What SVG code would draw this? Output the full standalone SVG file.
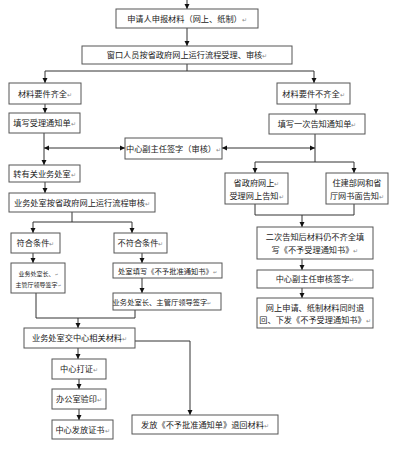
<svg xmlns="http://www.w3.org/2000/svg" width="400" height="463" viewBox="0 0 400 463">
<style>
rect{fill:#fff;stroke:#555;stroke-width:1}
text{font-family:"Noto Sans CJK SC","Liberation Sans",sans-serif;font-size:8.2px;fill:#222;text-anchor:middle}
.s{font-size:6px}
.m{font-size:7.3px}
.r{fill:#888;font-size:0.7em}
#conn path{fill:none;stroke:#333;stroke-width:1}
</style>
<defs>
<marker id="a" markerUnits="userSpaceOnUse" markerWidth="6" markerHeight="6" refX="5" refY="3" orient="auto-start-reverse"><path d="M0,0.5 L5,3 L0,5.5z" fill="#111"/></marker>
</defs>
<rect x="0" y="0" width="400" height="463" style="fill:#fff;stroke:none"/>
<g id="conn">
<path d="M187,0V9" marker-end="url(#a)"/>
<path d="M187,28V46" marker-end="url(#a)"/>
<path d="M187,64V71M45,71H314"/>
<path d="M45,71V83" marker-end="url(#a)"/>
<path d="M314,71V83" marker-end="url(#a)"/>
<path d="M45,104V113" marker-end="url(#a)"/>
<path d="M316,104V114" marker-end="url(#a)"/>
<path d="M44,133V165" marker-end="url(#a)"/>
<path d="M44,148H125" marker-start="url(#a)" marker-end="url(#a)"/>
<path d="M315,134V162M255,162H354"/>
<path d="M222,148H315" marker-start="url(#a)" marker-end="url(#a)"/>
<path d="M255,162V173" marker-end="url(#a)"/>
<path d="M354,162V173" marker-end="url(#a)"/>
<path d="M255,204V215M354,204V215M255,215H354"/>
<path d="M302,215V227" marker-end="url(#a)"/>
<path d="M302,259V270" marker-end="url(#a)"/>
<path d="M302,288V298" marker-end="url(#a)"/>
<path d="M45,182V193" marker-end="url(#a)"/>
<path d="M72,212V222M33,222H132"/>
<path d="M33,222V233" marker-end="url(#a)"/>
<path d="M132,222V233" marker-end="url(#a)"/>
<path d="M33,253V263" marker-end="url(#a)"/>
<path d="M142,253V263" marker-end="url(#a)"/>
<path d="M142,278V293" marker-end="url(#a)"/>
<path d="M36,293V318M135,310V318M36,318H135"/>
<path d="M78,318V328" marker-end="url(#a)"/>
<path d="M135,341H190V415" marker-end="url(#a)"/>
<path d="M78,348V359" marker-end="url(#a)"/>
<path d="M79,379V389" marker-end="url(#a)"/>
<path d="M79,409V420" marker-end="url(#a)"/>
</g>
<g id="n1"><rect x="116" y="9" width="142" height="19"/><text x="187" y="21.5">申请人申报材料（网上、纸制）<tspan class="r">↵</tspan></text></g>
<g id="n2"><rect x="82" y="46" width="210" height="18"/><text x="187" y="58">窗口人员按省政府网上运行流程受理、审核<tspan class="r">↵</tspan></text></g>
<g id="n3"><rect x="9" y="83" width="72" height="21"/><text x="45" y="96.5">材料要件齐全<tspan class="r">↵</tspan></text></g>
<g id="n4"><rect x="277" y="83" width="73" height="21"/><text x="313.5" y="96.5">材料要件不齐全<tspan class="r">↵</tspan></text></g>
<g id="n5"><rect x="9" y="113" width="71" height="20"/><text x="44.5" y="126">填写受理通知单<tspan class="r">↵</tspan></text></g>
<g id="n6"><rect x="269" y="114" width="96" height="20"/><text x="317" y="127">填写一次告知通知单<tspan class="r">↵</tspan></text></g>
<g id="n7"><rect x="125" y="138" width="97" height="21"/><text x="173.5" y="151.5">中心副主任签字（审核）<tspan class="r">↵</tspan></text></g>
<g id="n8"><rect x="9" y="165" width="71" height="17"/><text x="44.5" y="176.5">转有关业务处室<tspan class="r">↵</tspan></text></g>
<g id="n9"><rect x="9" y="193" width="146" height="19"/><text x="82" y="205.5">业务处室按省政府网上运行流程审核<tspan class="r">↵</tspan></text></g>
<g id="n10"><rect x="225" y="173" width="63" height="31"/><text x="256.5" y="186">省政府网上<tspan class="r">↵</tspan></text><text x="256.5" y="199">受理网上告知<tspan class="r">↵</tspan></text></g>
<g id="n11"><rect x="326" y="173" width="62" height="31"/><text x="357" y="186">住建部网和省</text><text x="357" y="199">厅网书面告知<tspan class="r">↵</tspan></text></g>
<g id="n12"><rect x="11" y="233" width="49" height="20"/><text x="35.5" y="246">符合条件<tspan class="r">↵</tspan></text></g>
<g id="n13"><rect x="114" y="233" width="53" height="20"/><text x="140.5" y="246">不符合条件<tspan class="r">↵</tspan></text></g>
<g id="n14"><rect x="11" y="263" width="54" height="30"/><text class="s" x="38" y="276">业务处室长、<tspan class="r">↵</tspan></text><text class="s" x="38" y="287">主管厅领导签字<tspan class="r">↵</tspan></text></g>
<g id="n15"><rect x="113" y="263" width="109" height="15"/><text class="m" x="167.5" y="273.5">处室填写《不予批准通知书》<tspan class="r">↵</tspan></text></g>
<g id="n16"><rect x="113" y="293" width="108" height="17"/><text class="m" x="162" y="304.5">业务处室长、主管厅领导签字<tspan class="r">↵</tspan></text></g>
<g id="n17"><rect x="257" y="227" width="116" height="32"/><text x="315" y="240">二次告知后材料仍不齐全填</text><text x="315" y="253">写《不予受理通知书》<tspan class="r">↵</tspan></text></g>
<g id="n18"><rect x="257" y="270" width="116" height="18"/><text x="315" y="282">中心副主任审核签字<tspan class="r">↵</tspan></text></g>
<g id="n19"><rect x="257" y="298" width="116" height="30"/><text x="315" y="310.5">网上申请、纸制材料同时退</text><text x="315" y="323">回、下发《不予受理通知书》<tspan class="r">↵</tspan></text></g>
<g id="n20"><rect x="24" y="328" width="111" height="20"/><text x="79.5" y="341">业务处室交中心相关材料<tspan class="r">↵</tspan></text></g>
<g id="n21"><rect x="52" y="359" width="54" height="20"/><text x="79" y="372">中心打证<tspan class="r">↵</tspan></text></g>
<g id="n22"><rect x="52" y="389" width="54" height="20"/><text x="79" y="402">办公室验印<tspan class="r">↵</tspan></text></g>
<g id="n23"><rect x="52" y="420" width="61" height="19"/><text x="82.5" y="432.5">中心发放证书<tspan class="r">↵</tspan></text></g>
<g id="n24"><rect x="132" y="415" width="146" height="19"/><text x="205" y="427.5">发放《不予批准通知单》退回材料<tspan class="r">↵</tspan></text></g>
</svg>
